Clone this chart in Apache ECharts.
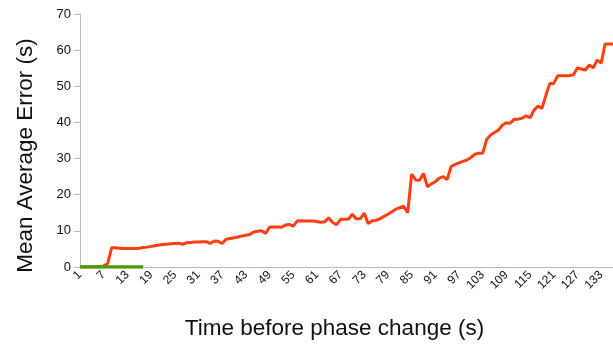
<!DOCTYPE html>
<html><head><meta charset="utf-8">
<script src="https://cdn.jsdelivr.net/npm/echarts@6/dist/echarts.min.js"></script>
<style>html,body{margin:0;padding:0;background:#fff}#c{width:613px;height:345px}</style>
</head><body><div id="c"></div>
<script>
var categories = [];
for (var i = 1; i <= 136; i++) categories.push(String(i));
var errorValues = [0,0,0,0,0,0,0.3,0.9,5.3,5.3,5.2,5.1,5.1,5.1,5.1,5.2,5.4,5.5,5.7,5.9,
6.1,6.2,6.3,6.4,6.5,6.6,6.3,6.7,6.8,6.9,6.9,7.0,7.0,6.5,7.2,7.1,6.5,7.7,7.9,8.1,
8.3,8.6,8.8,9.0,9.7,9.9,10.0,9.3,11.0,11.1,11.1,11.0,11.6,11.8,11.3,12.7,12.8,12.7,12.7,12.7,
12.6,12.4,12.5,13.6,12.3,11.7,13.2,13.2,13.3,14.6,13.3,13.4,14.9,12.0,12.8,12.9,13.4,14.0,14.6,15.3,
16.0,16.4,16.8,15.0,25.7,24.1,24.0,25.9,22.2,23.0,23.6,24.6,25.0,24.2,27.8,28.4,28.8,29.2,29.6,30.3,
31.2,31.5,31.5,35.3,36.5,37.2,37.9,39.3,39.9,39.8,40.9,40.9,41.2,41.8,41.3,43.4,44.5,43.9,47.5,50.8,
50.8,52.9,52.9,52.9,53.0,53.2,55.1,54.8,54.5,55.9,55.1,57.3,56.4,61.7,61.7,61.7];
var baselineValues = [0,0,0,0,0,0,0,0,0,0,0,0,0,0,0,0,0];
var yTicks = [0,10,20,30,40,50,60,70];

var chart = echarts.init(document.getElementById('c'), null, {renderer:'canvas'});
chart.setOption({
  animation:false,
  grid:{left:80, right:0, top:14, bottom:78},
  xAxis:{
    type:'category', data:categories, boundaryGap:false,
    name:'Time before phase change (s)', nameLocation:'middle', nameGap:50,
    nameTextStyle:{fontSize:22.5, color:'#111', fontFamily:'Liberation Sans', padding:[0,24,0,0]},
    axisLine:{lineStyle:{color:'#bbb', width:1}},
    axisTick:{show:false},
    axisLabel:{interval:5, rotate:45, fontSize:12, color:'#111', fontFamily:'Liberation Sans', margin:6}
  },
  yAxis:{
    type:'value', min:0, max:70, interval:10,
    name:'Mean Average Error (s)', nameLocation:'middle', nameGap:43,
    nameTextStyle:{fontSize:22.5, color:'#111', fontFamily:'Liberation Sans', padding:[0,30,0,0]},
    axisLine:{show:true, lineStyle:{color:'#bbb', width:1}},
    axisTick:{show:true, length:6, lineStyle:{color:'#bbb', width:1}},
    splitLine:{show:false},
    axisLabel:{fontSize:13, color:'#111', fontFamily:'Liberation Sans', margin:9,
      formatter:function(v){return yTicks.indexOf(v)>=0?String(v):'';}}
  },
  series:[
    {type:'line', data:errorValues, showSymbol:false, lineStyle:{color:'#ff3f11', width:3}, itemStyle:{color:'#ff3f11'}, z:2},
    {type:'line', data:baselineValues, showSymbol:false, lineStyle:{color:'#4f9a0a', width:3.5}, itemStyle:{color:'#4f9a0a'}, z:3}
  ]
});
</script></body></html>
